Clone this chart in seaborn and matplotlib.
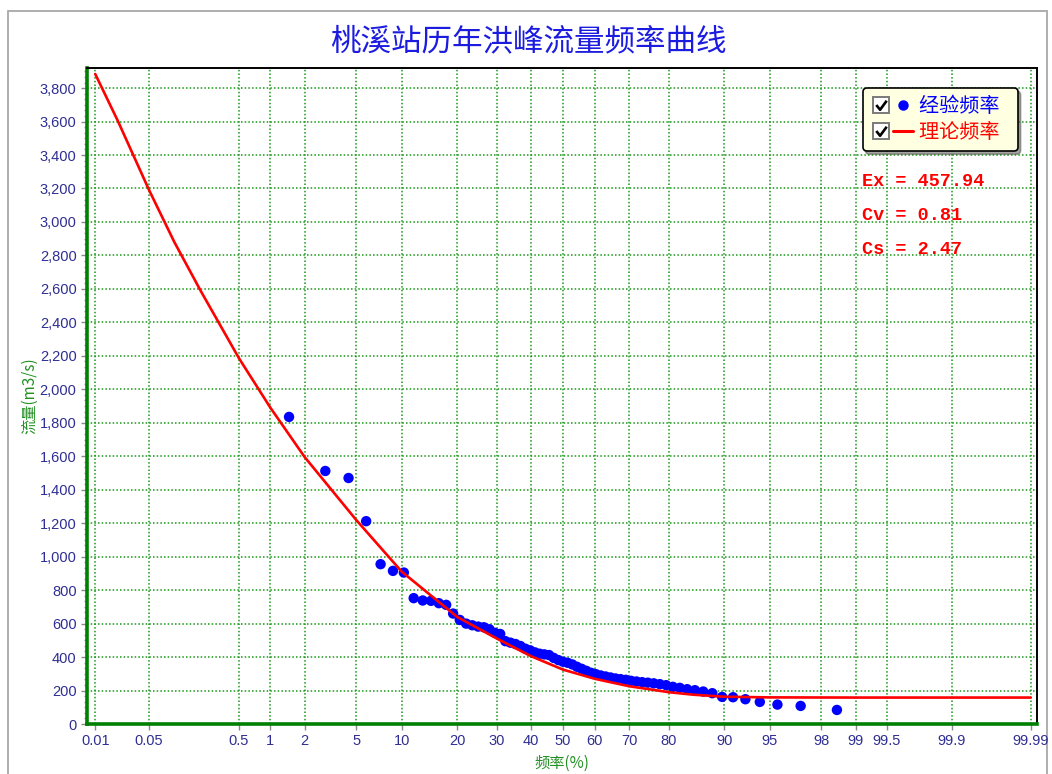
import math
import numpy as np
import pandas as pd
import matplotlib
matplotlib.use("Agg")
import matplotlib.pyplot as plt
import seaborn as sns
from matplotlib.lines import Line2D
from matplotlib.patches import Rectangle
from matplotlib.path import Path
from matplotlib.legend_handler import HandlerTuple
from matplotlib.ticker import FixedLocator, FixedFormatter, NullLocator, MultipleLocator, AutoMinorLocator, StrMethodFormatter

# ---- data -------------------------------------------------------------
# empirical exceedance frequency (%) and annual peak discharge (m3/s)
emp_freq = [1.47, 2.94, 4.41, 5.88, 7.35, 8.82, 10.29, 11.76, 13.24, 14.71,
            16.18, 17.65, 19.12, 20.59, 22.06, 23.53, 25.00, 26.47, 27.94, 29.41,
            30.88, 32.35, 33.82, 35.29, 36.76, 38.24, 39.71, 41.18, 42.65, 44.12,
            45.59, 47.06, 48.53, 50.00, 51.47, 52.94, 54.41, 55.88, 57.35, 58.82,
            60.29, 61.76, 63.24, 64.71, 66.18, 67.65, 69.12, 70.59, 72.06, 73.53,
            75.00, 76.47, 77.94, 79.41, 80.88, 82.35, 83.82, 85.29, 86.76, 88.24,
            89.71, 91.18, 92.65, 94.12, 95.59, 97.06, 98.53]
emp_flow = [1835, 1512, 1470, 1212, 955, 915, 905, 752, 738, 736,
            722, 712, 660, 622, 600, 590, 582, 578, 566, 545,
            538, 495, 486, 478, 466, 450, 440, 428, 420, 416,
            412, 395, 382, 372, 366, 356, 342, 330, 318, 306,
            298, 290, 284, 278, 272, 268, 264, 258, 254, 250,
            247, 243, 238, 232, 222, 216, 208, 202, 194, 184,
            162, 160, 148, 132, 116, 108, 84]

# fitted (theoretical) frequency curve
theo_freq = [0.01, 0.02, 0.05, 0.1, 0.2, 0.5, 1, 2, 5, 10, 20, 30, 40, 50,
             60, 70, 80, 85, 90, 95, 99, 99.9, 99.99]
theo_flow = [3884, 3605, 3190, 2880, 2585, 2185, 1890, 1595, 1220, 910, 640, 510,
             405, 325, 270, 226, 190, 175, 163, 159, 158, 158, 158]

x_ticks = [0.01, 0.05, 0.5, 1, 2, 5, 10, 20, 30, 40, 50, 60, 70, 80, 90, 95,
           98, 99, 99.5, 99.9, 99.99]
x_tick_labels = ["0.01", "0.05", "0.5", "1", "2", "5", "10", "20", "30", "40", "50",
                 "60", "70", "80", "90", "95", "98", "99", "99.5", "99.9", "99.99"]

stats = [("Ex", "457.94"), ("Cv", "0.81"), ("Cs", "2.47")]

# ---- normal probability scale -----------------------------------------
_A = [-3.969683028665376e+01, 2.209460984245205e+02, -2.759285104469687e+02,
      1.383577518672690e+02, -3.066479806614716e+01, 2.506628277386878e+00]
_B = [-5.447609879822406e+01, 1.615858368580409e+02, -1.556989798598866e+02,
      6.680131188771972e+01, -1.328068155288572e+01]
_C = [-7.784894002430293e-03, -3.223964580411365e-01, -2.400758277161838e+00,
      -2.549671180840000e+00, 4.374664141464968e+00, 2.938163982698783e+00]
_D = [7.784695709041462e-03, 3.224671290700398e-01, 2.445134137142996e+00,
      3.754408661907416e+00]


def _tail(q):
    num = ((((_C[0] * q + _C[1]) * q + _C[2]) * q + _C[3]) * q + _C[4]) * q + _C[5]
    den = (((_D[0] * q + _D[1]) * q + _D[2]) * q + _D[3]) * q + 1
    return num / den


def _ndtri(p):
    p = np.asarray(p, dtype=float)
    lo, hi = 0.02425, 1 - 0.02425
    with np.errstate(all="ignore"):
        tail_lo = _tail(np.sqrt(-2 * np.log(p)))
        tail_hi = -_tail(np.sqrt(-2 * np.log(1 - p)))
        qc = p - 0.5
        r = qc * qc
        mid = (((((_A[0]*r + _A[1])*r + _A[2])*r + _A[3])*r + _A[4])*r + _A[5]) * qc / \
              (((((_B[0]*r + _B[1])*r + _B[2])*r + _B[3])*r + _B[4])*r + 1)
    return np.where(p < lo, tail_lo, np.where(p > hi, tail_hi, mid))


def prob_forward(pct):
    p = np.clip(np.asarray(pct, dtype=float) / 100.0, 1e-9, 1 - 1e-9)
    return _ndtri(p)


_erf = np.vectorize(math.erf)


def prob_inverse(z):
    z = np.asarray(z, dtype=float)
    return 50.0 * (1.0 + _erf(z / math.sqrt(2.0)))


# ---- styling ----------------------------------------------------------
sns.set_style("white")
plt.rcParams["font.family"] = ["Liberation Sans", "Noto Sans CJK SC", "DejaVu Sans"]
CJK = ["Noto Sans CJK SC", "DejaVu Sans"]

W, H = 1052, 774
fig = plt.figure(figsize=(W / 100, H / 100), dpi=100)
fig.patch.set_facecolor("white")
ax = fig.add_axes([87 / W, 1 - 724 / H, 950 / W, 656.5 / H])

curve_df = pd.DataFrame({"freq": theo_freq, "flow": theo_flow})
emp_df = pd.DataFrame({"freq": emp_freq, "flow": emp_flow})

sns.scatterplot(data=emp_df, x="freq", y="flow", color="#0000FF", s=56,
                edgecolor="none", linewidth=0, ax=ax, zorder=3, legend=False)
sns.lineplot(data=curve_df, x="freq", y="flow", color="#FF0000", linewidth=1.9,
             ax=ax, zorder=4, legend=False)

ax.set_xscale("function", functions=(prob_forward, prob_inverse))
ax.set_xlim(0.0077, 99.9918)
ax.set_ylim(0, 3923)

ax.xaxis.set_major_locator(FixedLocator(x_ticks))
ax.xaxis.set_major_formatter(FixedFormatter(x_tick_labels))
ax.xaxis.set_minor_locator(NullLocator())
ax.yaxis.set_major_locator(MultipleLocator(200))
ax.yaxis.set_minor_locator(AutoMinorLocator(6))
ax.yaxis.set_major_formatter(StrMethodFormatter("{x:,.0f}"))

ax.set_xlabel("")
ax.set_ylabel("")

tick_color = "#2e2e94"
ax.tick_params(axis="both", which="major", direction="out", length=4.5, width=1,
               color="#8a8a8a", labelsize=10.5, labelcolor=tick_color, pad=3,
               bottom=True, left=True)
ax.tick_params(axis="y", which="minor", direction="out", length=2.5, width=1,
               color="#9a9a9a", left=True)

ax.grid(True, which="major", color="#189818", linestyle=(0, (1, 1.4)), linewidth=1.1)
ax.set_axisbelow(True)

for side in ("left", "bottom"):
    ax.spines[side].set_color("#008000")
    ax.spines[side].set_linewidth(2.6)
for side in ("top", "right"):
    ax.spines[side].set_color("black")
    ax.spines[side].set_linewidth(1.4)

# outer frame
fig.add_artist(Rectangle((8 / W, -0.05), (1047 - 8) / W, 1.05 - 11 / H,
                         transform=fig.transFigure, fill=False,
                         edgecolor="#a8a8a8", linewidth=1.3, zorder=0))

# title and axis captions
fig.text(528 / W, 1 - 42 / H, "桃溪站历年洪峰流量频率曲线", ha="center", va="center",
         fontsize=22, color="#1c1ce0", family=CJK)
fig.text(30 / W, 1 - 396 / H, "流量(m3/s)", ha="center", va="center", rotation=90,
         fontsize=11, color="#239023", family=CJK)
fig.text(562 / W, 1 - 763 / H, "频率(%)", ha="center", va="center",
         fontsize=11, color="#239023", family=CJK)

# legend with check boxes
check_path = Path([(-0.55, 0.05), (-0.15, -0.45), (0.55, 0.5)],
                  [Path.MOVETO, Path.LINETO, Path.LINETO])


def checkbox():
    box = Line2D([], [], marker="s", markersize=11, markerfacecolor="white",
                 markeredgecolor="#7a7a7a", markeredgewidth=1.4, linestyle="none")
    tick = Line2D([], [], marker=check_path, markersize=7.5, markerfacecolor="none",
                  markeredgecolor="black", markeredgewidth=1.9, linestyle="none")
    return (box, tick)


dot = Line2D([], [], marker="o", markersize=6.5, color="#0000FF", linestyle="none")
red = Line2D([], [], color="#FF0000", linewidth=2.2)
h_emp = (checkbox(), dot)
h_theo = (checkbox(), red)
leg = ax.legend([h_emp, h_theo], ["经验频率\u2002", "理论频率\u2002"],
                handler_map={h_emp: HandlerTuple(ndivide=None, pad=0.1),
                             h_theo: HandlerTuple(ndivide=None, pad=0.1)},
                loc="upper left", bbox_to_anchor=(862.7 / W, 1 - 88.3 / H),
                bbox_transform=fig.transFigure, borderaxespad=0,
                prop={"family": CJK, "size": 14.5},
                labelcolor=["#0000FF", "#FF0000"], handlelength=2.1,
                handletextpad=0.3, borderpad=0.4, labelspacing=0.25,
                frameon=True, fancybox=True, shadow=True,
                facecolor="#ffffe1", edgecolor="black", framealpha=1)
leg.get_frame().set_linewidth(1.2)
leg.set_zorder(6)

# distribution parameters
for i, (name, val) in enumerate(stats):
    fig.text(862 / W, 1 - (181 + 34.5 * i) / H, f"{name} = {val}", ha="left", va="center",
             fontsize=13.3, color="#FF0000", weight="bold", family="Liberation Mono")

fig.savefig("out.png", dpi=100, facecolor="white")
